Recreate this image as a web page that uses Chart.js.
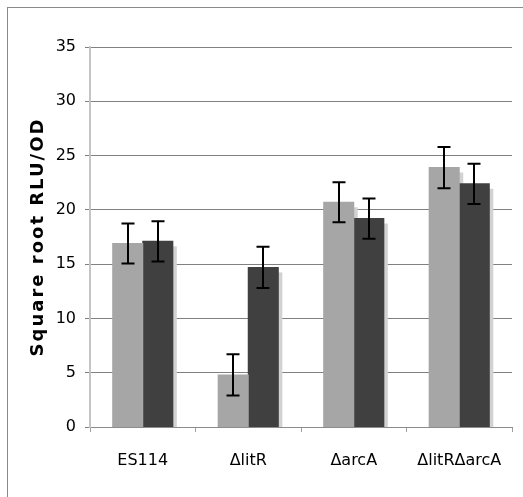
<!DOCTYPE html>
<html>
<head>
<meta charset="utf-8">
<script src="https://cdn.jsdelivr.net/npm/chart.js@4/dist/chart.umd.min.js"></script>
<style>
    body { margin: 0; background: #fff; }
    #frame { position: absolute; left: 7px; top: 7px; width: 600px; height: 600px; border: 1px solid #8a8a8a; }
    #wrap { position: absolute; left: 0; top: 0; width: 523px; height: 497px; }
</style>
</head>
<body>
<div id="frame"></div>
<div id="wrap"><canvas id="myChart" width="523" height="497"></canvas></div>
<script>
// data
var strains = ["ES114", "\u0394litR", "\u0394arcA", "\u0394litR\u0394arcA"];
var lightVals = [16.9, 4.8, 20.7, 23.9];
var lightErr = [1.85, 1.9, 1.85, 1.9];
var darkVals = [17.1, 14.7, 19.2, 22.4];
var darkErr = [1.85, 1.9, 1.85, 1.85];
var yTicks = [0, 5, 10, 15, 20, 25, 30, 35];

//shadows of all bars first, so no bar gets a shadow painted over it
var barShadow = {
    id: "barShadow",
    beforeDatasetsDraw: function (chart) {
        var c = chart.ctx;
        var a = chart.chartArea;
        c.save();
        c.beginPath();
        c.rect(a.left, a.top, a.right - a.left, a.bottom - a.top);
        c.clip();
        c.fillStyle = "#d2d2d2";
        chart.data.datasets.forEach(function (ds, i) {
            chart.getDatasetMeta(i).data.forEach(function (bar) {
                var p = bar.getProps(["x", "y", "base", "width"], true);
                c.fillRect(p.x - p.width / 2 + 4, p.y + 5, p.width, p.base - p.y);
            });
        });
        c.restore();
    }
};

//error bars drawn through the scales
var errorBars = {
    id: "errorBars",
    afterDatasetsDraw: function (chart) {
        var c = chart.ctx;
        var y = chart.scales.y;
        var errs = [lightErr, darkErr];
        c.save();
        c.strokeStyle = "#000";
        c.lineWidth = 2;
        chart.data.datasets.forEach(function (ds, i) {
            chart.getDatasetMeta(i).data.forEach(function (bar, j) {
                var hi = y.getPixelForValue(ds.data[j] + errs[i][j]);
                var lo = y.getPixelForValue(ds.data[j] - errs[i][j]);
                var x = Math.round(bar.x);
                c.beginPath();
                c.moveTo(x, hi); c.lineTo(x, lo);
                c.moveTo(x - 6.5, hi); c.lineTo(x + 6.5, hi);
                c.moveTo(x - 6.5, lo); c.lineTo(x + 6.5, lo);
                c.stroke();
            });
        });
        c.restore();
    }
};

//a little letter spacing on the y title only
var titleSpacing = {
    id: "titleSpacing",
    beforeDraw: function (chart) {
        var s = chart.scales.y;
        if (s._patched) return;
        var orig = s.drawTitle;
        s.drawTitle = function () {
            this.ctx.letterSpacing = "2px";
            orig.apply(this, arguments);
            this.ctx.letterSpacing = "0px";
        };
        s._patched = true;
    }
};

var ctx = document.getElementById("myChart").getContext("2d");
window.myChart = new Chart(ctx, {
    type: "bar",
    data: {
        labels: strains,
        datasets: [
            { label: "light", data: lightVals, backgroundColor: "#a6a6a6", borderWidth: 0, inflateAmount: 0.5 },
            { label: "dark", data: darkVals, backgroundColor: "#404040", borderWidth: 0, inflateAmount: 0.5 }
        ]
    },
    options: {
        responsive: false,
        animation: false,
        categoryPercentage: 0.57,
        barPercentage: 1.0,
        layout: { padding: { left: 25, right: 11, top: 47, bottom: 0 } },
        plugins: { legend: { display: false }, tooltip: { enabled: false } },
        scales: {
            x: {
                grid: { drawOnChartArea: false, drawTicks: true, tickLength: 5, color: "#a0a0a0" },
                border: { color: "#8c8c8c", width: 1 },
                ticks: { color: "#000", padding: 19, font: { family: "DejaVu Sans", size: 16 } },
                afterFit: function (s) { s.height = 70; }
            },
            y: {
                min: 0,
                max: 35,
                afterBuildTicks: function (s) { s.ticks = yTicks.map(function (v) { return { value: v }; }); },
                grid: { color: "#808080", tickLength: 5, lineWidth: 1 },
                border: { color: "#c4c4c4", width: 2 },
                ticks: { color: "#000", padding: 9, font: { family: "DejaVu Sans", size: 16 } },
                title: {
                    display: true,
                    text: "Square root RLU/OD",
                    color: "#000",
                    padding: { top: 3, bottom: 4 },
                    font: { family: "DejaVu Sans", size: 18, weight: "bold" }
                },
                afterFit: function (s) { s.width = 65; }
            }
        }
    },
    plugins: [barShadow, errorBars, titleSpacing]
});
</script>
</body>
</html>
